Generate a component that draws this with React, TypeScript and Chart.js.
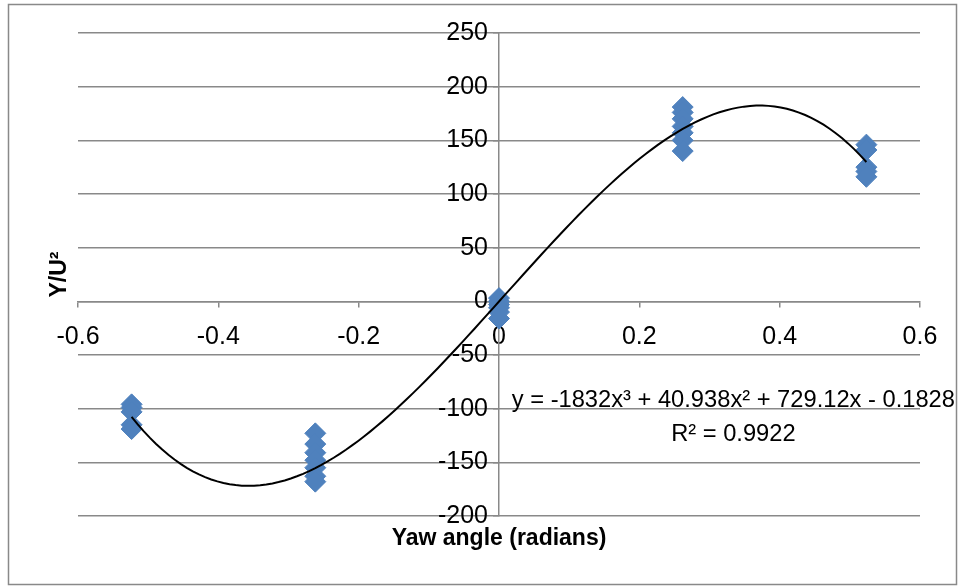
import React, { useEffect, useRef } from 'react';
import { Chart, registerables } from 'chart.js';

Chart.register(...registerables);

// Yaw angles (radians) of the five measurement clusters
const X_POSITIONS = [-0.5236, -0.2618, 0, 0.2618, 0.5236];
// Measured Y/U² values at each yaw angle
const Y_AT_M30 = [-96, -99, -103, -115, -119];
const Y_AT_M15 = [-123, -133, -141, -148, -155, -163, -168];
const Y_AT_0 = [3, 0, -3, -6, -10, -16];
const Y_AT_P15 = [181, 176, 170, 163, 157, 150, 140];
const Y_AT_P30 = [146, 141, 125, 121, 116];
const CLUSTERS = [Y_AT_M30, Y_AT_M15, Y_AT_0, Y_AT_P15, Y_AT_P30];

// Cubic trendline coefficients shown on the chart (x³, x², x, const)
const TREND_COEFFS = [-1832, 40.938, 729.12, -0.1828];
const TREND_SAMPLES = 120;

const X_TICKS = [-0.6, -0.4, -0.2, 0, 0.2, 0.4, 0.6];
const Y_TICKS = [-200, -150, -100, -50, 0, 50, 100, 150, 200, 250];

const EQUATION_LINES = ['y = -1832x³ + 40.938x² + 729.12x - 0.1828', 'R² = 0.9922'];
const X_TITLE = 'Yaw angle (radians)';
const Y_TITLE = 'Y/U²';

const FONT_FAMILY = '"Liberation Sans", Arial, sans-serif';
const GRID = '#898989';
const MARKER = '#4F81BD';

export default function App() {
  const ref = useRef<HTMLCanvasElement | null>(null);

  useEffect(() => {
    if (!ref.current) return;

    const scatter: { x: number; y: number }[] = [];
    CLUSTERS.forEach((vals, i) => vals.forEach((v) => scatter.push({ x: X_POSITIONS[i], y: v })));

    const xMin = X_POSITIONS[0];
    const xMax = X_POSITIONS[X_POSITIONS.length - 1];
    const trend: { x: number; y: number }[] = [];
    for (let i = 0; i <= TREND_SAMPLES; i++) {
      const x = xMin + ((xMax - xMin) * i) / TREND_SAMPLES;
      const [a, b, c, d] = TREND_COEFFS;
      trend.push({ x, y: a * x * x * x + b * x * x + c * x + d });
    }

    const decor = {
      id: 'decor',
      beforeDatasetsDraw(chart: any) {
        const { ctx } = chart;
        const xs = chart.scales.x;
        const ys = chart.scales.y;
        ctx.save();
        ctx.fillStyle = '#000';
        ctx.font = `25px ${FONT_FAMILY}`;
        ctx.textAlign = 'right';
        ctx.textBaseline = 'middle';
        const lx = xs.getPixelForValue(0) - 11;
        Y_TICKS.forEach((v) => ctx.fillText(String(v), lx, ys.getPixelForValue(v)));
        ctx.restore();
      },
      afterDraw(chart: any) {
        const { ctx, chartArea } = chart;
        const xs = chart.scales.x;
        ctx.save();
        ctx.strokeStyle = GRID;
        ctx.lineWidth = 1.5;
        ctx.strokeRect(8.5, 4.5, 948, 580);

        ctx.fillStyle = '#000';
        ctx.font = `bold 23px ${FONT_FAMILY}`;
        ctx.textAlign = 'center';
        ctx.textBaseline = 'middle';
        ctx.fillText(X_TITLE, (chartArea.left + chartArea.right) / 2, 539);

        ctx.save();
        ctx.translate(60, (chartArea.top + chartArea.bottom) / 2);
        ctx.rotate(-Math.PI / 2);
        ctx.fillText(Y_TITLE, 0, 0);
        ctx.restore();

        ctx.font = `23.7px ${FONT_FAMILY}`;
        const ex = xs.getPixelForValue(0.334);
        ctx.fillText(EQUATION_LINES[0], ex, 400);
        ctx.fillText(EQUATION_LINES[1], ex, 434);
        ctx.restore();
      },
    };

    const chart = new Chart(ref.current, {
      type: 'scatter',
      data: {
        datasets: [
          {
            type: 'line',
            label: 'Poly. trend',
            data: trend,
            borderColor: '#000',
            borderWidth: 2,
            pointRadius: 0,
            fill: false,
            tension: 0,
          },
          {
            label: 'Series1',
            data: scatter,
            pointStyle: 'rectRot',
            pointRadius: 10.5,
            backgroundColor: MARKER,
            borderColor: MARKER,
            borderWidth: 1,
          },
        ],
      },
      options: {
        responsive: false,
        animation: false,
        layout: { padding: { left: 78, right: 44, top: 33, bottom: 72 } },
        plugins: { legend: { display: false }, tooltip: { enabled: false } },
        scales: {
          x: {
            type: 'linear',
            min: X_TICKS[0],
            max: X_TICKS[X_TICKS.length - 1],
            position: { y: 0 } as any,
            afterBuildTicks: (s: any) => {
              s.ticks = X_TICKS.map((v) => ({ value: v }));
            },
            ticks: {
              color: '#000',
              font: { family: FONT_FAMILY, size: 25 },
              padding: 16,
              maxRotation: 0,
              callback: (v: any) => String(Number(Number(v).toFixed(1))),
            },
            grid: { drawOnChartArea: false, drawTicks: true, tickLength: 5, color: GRID, lineWidth: 1.5 },
            border: { color: GRID, width: 1.5 },
          },
          y: {
            type: 'linear',
            min: Y_TICKS[0],
            max: Y_TICKS[Y_TICKS.length - 1],
            position: { x: 0 } as any,
            afterBuildTicks: (s: any) => {
              s.ticks = Y_TICKS.map((v) => ({ value: v }));
            },
            ticks: { display: false },
            grid: { color: GRID, lineWidth: 1.5, tickLength: 5 },
            border: { color: GRID, width: 1.5 },
          },
        },
      },
      plugins: [decor],
    });

    return () => chart.destroy();
  }, []);

  return (
    <div style={{ position: 'absolute', left: 0, top: 0, width: 964, height: 588, background: '#fff' }}>
      <canvas ref={ref} width={964} height={588} />
    </div>
  );
}
